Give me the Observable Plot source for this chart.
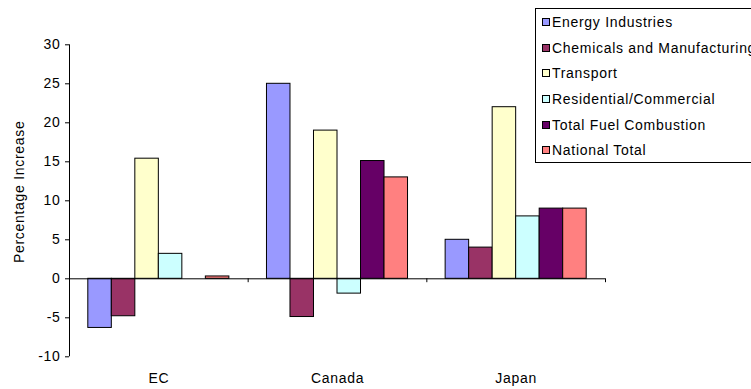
<!DOCTYPE html>
<html>
<head>
<meta charset="utf-8">
<script src="https://cdn.jsdelivr.net/npm/d3@7"></script>
<script src="https://cdn.jsdelivr.net/npm/@observablehq/plot@0.6"></script>
<style>
  html, body { margin: 0; padding: 0; background: #fff; overflow: hidden; }
  #wrap { position: relative; width: 751px; height: 389px; overflow: hidden; font-family: "Liberation Sans", Arial, sans-serif; }
  #legend {
    position: absolute; left: 535px; top: 8px; width: 240px; height: 155px;
    border: 1px solid #000; background: #fff; box-sizing: border-box;
    padding-top: 0.5px;
  }
  .row { height: 25.6px; display: flex; align-items: center; white-space: nowrap; font-size: 14px; letter-spacing: 0.7px; color: #000; }
  .sw { width: 6px; height: 6px; border: 1px solid #000; margin-left: 6px; margin-right: 2px; flex: none; }
</style>
</head>
<body>
<div id="wrap"></div>
<script>
// Regions compared along the category axis
const categories = ["EC", "Canada", "Japan"];

// Emission sectors (one bar per sector in each region)
const sectors = [
  "Energy Industries",
  "Chemicals and Manufacturing",
  "Transport",
  "Residential/Commercial",
  "Total Fuel Combustion",
  "National Total"
];
const sectorColors = ["#9999FF", "#993366", "#FFFFCC", "#CCFFFF", "#660066", "#FF8080"];

// Percentage increase per sector, ordered as categories (null = not reported)
const energyIndustries       = [-6.3, 25.0, 5.0];
const chemicalsManufacturing = [-4.8, -4.9, 4.0];
const transport              = [15.4, 19.0, 22.0];
const residentialCommercial  = [3.2, -1.9, 8.0];
const totalFuelCombustion    = [null, 15.1, 9.0];
const nationalTotal          = [0.3, 13.0, 9.0];

const yTicks = [-10, -5, 0, 5, 10, 15, 20, 25, 30];

const seriesValues = [energyIndustries, chemicalsManufacturing, transport,
                      residentialCommercial, totalFuelCombustion, nationalTotal];

const rows = [];
seriesValues.forEach((vals, si) => {
  vals.forEach((v, ci) => {
    if (v != null) rows.push({country: categories[ci], ci, sector: sectors[si], si, value: v});
  });
});

// Grouped layout: each category occupies one unit; bars are packed with outer padding
const outerPad = 0.8;
const step = sectors.length + 2 * outerPad;
const left = d => d.ci + (outerPad + d.si) / step;
const right = d => d.ci + (outerPad + d.si + 1) / step;

const chart = Plot.plot({
  width: 751,
  height: 389,
  marginLeft: 69,
  marginRight: 146,
  marginTop: 44.3,
  marginBottom: 32.7,
  style: {fontFamily: "'Liberation Sans', Arial, sans-serif", fontSize: "14px", letterSpacing: "0.7px", color: "#000", background: "#fff"},
  x: {domain: [0, categories.length], axis: null},
  y: {domain: [-10, 30], axis: null},
  color: {domain: sectors, range: sectorColors},
  marks: [
    Plot.rectY(rows, {x1: left, x2: right, y: "value", fill: "sector", stroke: "#000", strokeWidth: 1}),
    Plot.ruleY([0], {stroke: "#000"}),
    Plot.ruleX([1, 2, 3], {y1: 0, y2: -0.5, stroke: "#000"}),
    Plot.ruleX([0], {stroke: "#000"}),
    Plot.axisY({ticks: yTicks, tickFormat: d => String(d), tickSize: 4, tickPadding: 5, label: null, stroke: "#000"}),
    Plot.axisX({
      ticks: categories.map((c, i) => i + 0.5),
      tickFormat: t => categories[Math.floor(t)],
      tickSize: 0, tickPadding: 16, label: null
    }),
    Plot.text(["Percentage Increase"], {frameAnchor: "left", textAnchor: "middle", rotate: -90, dx: -50, dy: -9, fontSize: 14})
  ]
});

const wrap = document.getElementById("wrap");
wrap.appendChild(chart);

const legend = document.createElement("div");
legend.id = "legend";
sectors.forEach((s, i) => {
  const row = document.createElement("div");
  row.className = "row";
  const sw = document.createElement("span");
  sw.className = "sw";
  sw.style.background = sectorColors[i];
  const label = document.createElement("span");
  label.textContent = s;
  row.appendChild(sw);
  row.appendChild(label);
  legend.appendChild(row);
});
wrap.appendChild(legend);
</script>
</body>
</html>
